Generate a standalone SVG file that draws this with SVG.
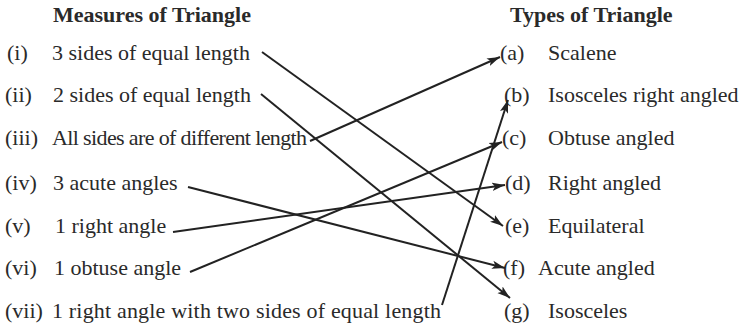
<svg xmlns="http://www.w3.org/2000/svg" width="748" height="331" viewBox="0 0 748 331">
<style>
text{font-family:"Liberation Serif","Times New Roman",serif;font-size:22px;fill:#2a2a2a}
.h{font-weight:bold}
.c{stroke:#222;stroke-width:2;fill:none;marker-end:url(#ah)}
</style>
<defs>
<marker id="ah" markerUnits="userSpaceOnUse" markerWidth="14" markerHeight="10" refX="13" refY="5" orient="auto">
<path d="M0,0.8 L13,5 L0,9.2 L3,5 Z" fill="#222"/>
</marker>
</defs>
<rect width="748" height="331" fill="#fff"/>
<g id="heading-left"><text class="h" x="53" y="22">Measures of Triangle</text></g>
<g id="heading-right"><text class="h" x="510" y="22">Types of Triangle</text></g>
<g id="m1"><text x="7" y="60">(i)</text><text x="52" y="60">3 sides of equal length</text></g>
<g id="m2"><text x="5" y="102">(ii)</text><text x="53" y="102">2 sides of equal length</text></g>
<g id="m3"><text x="5" y="145">(iii)</text><text x="52" y="145" textLength="255">All sides are of different length</text></g>
<g id="m4"><text x="5" y="190">(iv)</text><text x="53" y="190">3 acute angles</text></g>
<g id="m5"><text x="5" y="233">(v)</text><text x="55" y="233">1 right angle</text></g>
<g id="m6"><text x="5" y="275">(vi)</text><text x="54" y="275">1 obtuse angle</text></g>
<g id="m7"><text x="5" y="318">(vii)</text><text x="52" y="318" textLength="389">1 right angle with two sides of equal length</text></g>
<g id="ta"><text x="500" y="60">(a)</text><text x="548" y="60">Scalene</text></g>
<g id="tb"><text x="504" y="102">(b)</text><text x="548" y="102">Isosceles right angled</text></g>
<g id="tc"><text x="502" y="145">(c)</text><text x="548" y="145">Obtuse angled</text></g>
<g id="td"><text x="505" y="190">(d)</text><text x="548" y="190">Right angled</text></g>
<g id="te"><text x="505" y="233">(e)</text><text x="548" y="233">Equilateral</text></g>
<g id="tf"><text x="503" y="275">(f)</text><text x="538" y="275">Acute angled</text></g>
<g id="tg"><text x="504" y="318">(g)</text><text x="548" y="318">Isosceles</text></g>
<g id="connectors">
<path class="c" d="M262,52 L503,226"/>
<path class="c" d="M261,94 L510,298"/>
<path class="c" d="M310,141 L500,57"/>
<path class="c" d="M188,187 L505,268"/>
<path class="c" d="M173,232 L505,185"/>
<path class="c" d="M190,272 L502,142"/>
<path class="c" d="M442,305 L508,100"/>
</g>
</svg>
